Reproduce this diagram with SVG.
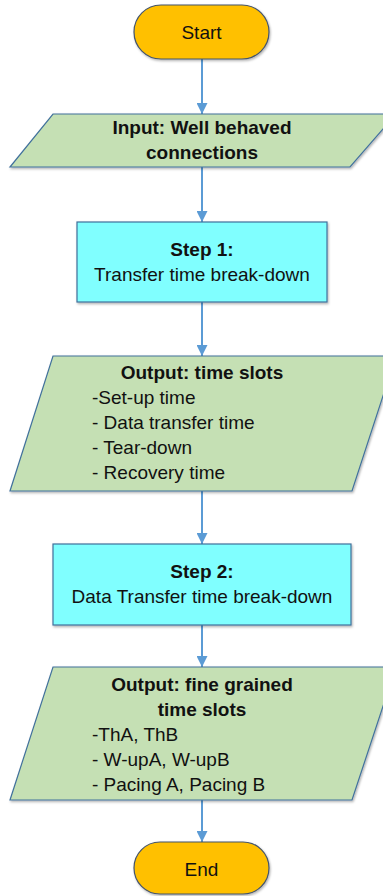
<svg xmlns="http://www.w3.org/2000/svg" width="383" height="896" viewBox="0 0 383 896">
<style>
text{font-family:"Liberation Sans",Arial,sans-serif;font-size:19px;fill:#111}
.b{font-weight:bold}
.c{text-anchor:middle}
.term{fill:#FFC000;stroke:#44546A;stroke-width:1.2}
.io{fill:#C5E0B4;stroke:#41719C;stroke-width:1.2}
.proc{fill:#80FFFF;stroke:#41719C;stroke-width:1.2}
.conn{stroke:#5B9BD5;stroke-width:2;fill:none}
</style>
<defs>
<marker id="ah" markerUnits="userSpaceOnUse" markerWidth="12" markerHeight="11" refX="11" refY="5.5" orient="auto">
<path d="M0,0 L11,5.5 L0,11 Z" fill="#5B9BD5"/>
</marker>
<filter id="sh" x="-10%" y="-10%" width="130%" height="130%">
<feDropShadow dx="1" dy="1.5" stdDeviation="1.2" flood-color="#000" flood-opacity="0.3"/>
</filter>
</defs>
<g id="connectors">
<line class="conn" x1="202" y1="59" x2="202" y2="114" marker-end="url(#ah)"/>
<line class="conn" x1="202" y1="167" x2="202" y2="222" marker-end="url(#ah)"/>
<line class="conn" x1="202" y1="302" x2="202" y2="356" marker-end="url(#ah)"/>
<line class="conn" x1="202" y1="491" x2="202" y2="544" marker-end="url(#ah)"/>
<line class="conn" x1="202" y1="625" x2="202" y2="667" marker-end="url(#ah)"/>
<line class="conn" x1="202" y1="800" x2="202" y2="842" marker-end="url(#ah)"/>
</g>
<g id="start">
<rect class="term" x="134" y="5" width="135" height="54" rx="27" filter="url(#sh)"/>
<text class="c" x="201.5" y="39">Start</text>
</g>
<g id="input">
<polygon class="io" points="53,114 396,114 350,167 10,167" filter="url(#sh)"/>
<text class="c b" x="202" y="134">Input: Well behaved</text>
<text class="c b" x="202" y="159">connections</text>
</g>
<g id="step1">
<rect class="proc" x="77" y="222" width="250" height="80" filter="url(#sh)"/>
<text class="c b" x="202" y="256">Step 1:</text>
<text class="c" x="202" y="281">Transfer time break-down</text>
</g>
<g id="output1">
<polygon class="io" points="53,356 396,356 352,491 10,491" filter="url(#sh)"/>
<text class="c b" x="202" y="379">Output: time slots</text>
<text x="92" y="404">-Set-up time</text>
<text x="92" y="429">- Data transfer time</text>
<text x="92" y="454">- Tear-down</text>
<text x="92" y="479">- Recovery time</text>
</g>
<g id="step2">
<rect class="proc" x="53" y="544" width="298" height="81" filter="url(#sh)"/>
<text class="c b" x="202" y="578">Step 2:</text>
<text class="c" x="202" y="603">Data Transfer time break-down</text>
</g>
<g id="output2">
<polygon class="io" points="53,667 396,667 352,800 10,800" filter="url(#sh)"/>
<text class="c b" x="202" y="691">Output: fine grained</text>
<text class="c b" x="202" y="716">time slots</text>
<text x="92" y="741">-ThA, ThB</text>
<text x="92" y="766">- W-upA, W-upB</text>
<text x="92" y="791">- Pacing A, Pacing B</text>
</g>
<g id="end">
<rect class="term" x="134" y="842" width="135" height="52" rx="26" filter="url(#sh)"/>
<text class="c" x="201.5" y="876">End</text>
</g>
</svg>
